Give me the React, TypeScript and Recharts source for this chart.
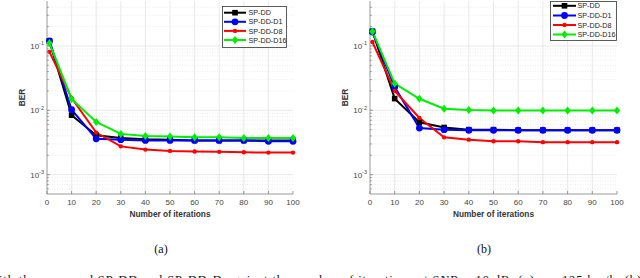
import React from 'react';
import { LineChart, Line, XAxis, YAxis, CartesianGrid, Label } from 'recharts';

const iterations = [1, 10, 20, 30, 40, 50, 60, 70, 80, 90, 100];
const xTicks = [0, 10, 20, 30, 40, 50, 60, 70, 80, 90, 100];
const yMajor = [1e-3, 1e-2, 1e-1];
const yMinor = [6e-4, 7e-4, 8e-4, 9e-4, 2e-3, 3e-3, 4e-3, 5e-3, 6e-3, 7e-3, 8e-3, 9e-3, 2e-2, 3e-2, 4e-2, 5e-2, 6e-2, 7e-2, 8e-2, 9e-2, 2e-1, 3e-1, 4e-1];
const seriesNames = ['SP-DD', 'SP-DD-D1', 'SP-DD-D8', 'SP-DD-D16'];

// (a)
const spddA = [0.119, 0.0084, 0.0041, 0.0037, 0.00355, 0.0035, 0.0034, 0.0034, 0.0034, 0.0034, 0.0034];
const d1A = [0.12, 0.0102, 0.0036, 0.0035, 0.0034, 0.0034, 0.0034, 0.0034, 0.0034, 0.0033, 0.0033];
const d8A = [0.081, 0.0155, 0.0045, 0.00275, 0.00245, 0.00234, 0.00229, 0.00226, 0.00223, 0.0022, 0.0022];
const d16A = [0.111, 0.015, 0.0066, 0.0043, 0.004, 0.0039, 0.0038, 0.0038, 0.0037, 0.0037, 0.0037];

// (b)
const spddB = [0.17, 0.0152, 0.0065, 0.0054, 0.005, 0.005, 0.0049, 0.0049, 0.0049, 0.0049, 0.0049];
const d1B = [0.165, 0.023, 0.0053, 0.005, 0.0049, 0.0049, 0.0049, 0.0049, 0.0049, 0.0049, 0.0049];
const d8B = [0.115, 0.02, 0.0076, 0.0038, 0.0035, 0.0033, 0.0033, 0.0032, 0.0032, 0.0032, 0.0032];
const d16B = [0.168, 0.026, 0.0151, 0.0106, 0.0101, 0.0099, 0.0099, 0.0099, 0.0099, 0.0099, 0.0099];

const COLORS = ['#000000', '#0000ff', '#ff0000', '#00ee00'];
const FONT = '"Liberation Sans", Arial, Helvetica, sans-serif';
const SERIF = '"Liberation Serif", "Times New Roman", serif';
const AX = '#808080';

const buildRows = (a: number[], b: number[], c: number[], d: number[]) =>
  iterations.map((it, i) => ({ it, s0: a[i], s1: b[i], s2: c[i], s3: d[i] }));

const isMajor = (v: number) => yMajor.some((m) => Math.abs(m - v) / m < 1e-6);

const Marker = ({ kind, cx, cy, color }: any) => {
  if (cx == null || cy == null) return null;
  if (kind === 0) return <rect x={cx - 2.8} y={cy - 2.8} width={5.6} height={5.6} fill={color} />;
  if (kind === 1) return <circle cx={cx} cy={cy} r={3.4} fill={color} />;
  if (kind === 2) return <circle cx={cx} cy={cy} r={2.2} fill={color} />;
  return <polygon points={`${cx},${cy - 4} ${cx + 3.2},${cy} ${cx},${cy + 4} ${cx - 3.2},${cy}`} fill={color} />;
};

const LeftTick = (props: any) => {
  const { x, y, payload } = props;
  const major = isMajor(payload.value);
  const exp = Math.round(Math.log10(payload.value));
  return (
    <g>
      <line x1={x} x2={x + (major ? 3 : 1.8)} y1={y} y2={y} stroke={AX} strokeWidth={0.8} />
      {major && (
        <text x={x - 3} y={y + 3} textAnchor="end" fontFamily={FONT} fontSize={8} fill="#444">
          10<tspan dy={-3.5} fontSize={5.5}>{String(exp)}</tspan>
        </text>
      )}
    </g>
  );
};

const RightTick = (props: any) => {
  const { x, y, payload } = props;
  const major = isMajor(payload.value);
  return <line x1={x} x2={x - (major ? 3 : 1.8)} y1={y} y2={y} stroke={AX} strokeWidth={0.8} />;
};

const BottomTick = (props: any) => {
  const { x, y, payload } = props;
  return (
    <g>
      <line x1={x} x2={x} y1={y} y2={y - 3} stroke={AX} strokeWidth={0.8} />
      <text x={x} y={y + 11} textAnchor="middle" fontFamily={FONT} fontSize={8} fill="#444">
        {payload.value}
      </text>
    </g>
  );
};

const TopTick = (props: any) => {
  const { x, y } = props;
  return <line x1={x} x2={x} y1={y} y2={y + 3} stroke={AX} strokeWidth={0.8} />;
};

const LegendBox = ({ left, top, width, height, rowY, lineX0, lineX1, textX }: any) => (
  <g transform={`translate(${left} ${top})`}>
    <rect x={0.5} y={0.5} width={width - 1} height={height - 1} fill="#ffffff" stroke="#333" strokeWidth={0.8} />
    {seriesNames.map((name, i) => {
      const y = rowY[i];
      const cx = (lineX0 + lineX1) / 2;
      return (
        <g key={name}>
          <line x1={lineX0} x2={lineX1} y1={y} y2={y} stroke={COLORS[i]} strokeWidth={2} />
          <Marker kind={i} cx={cx} cy={y} color={COLORS[i]} />
          <text x={textX} y={y + 2.6} fontFamily={FONT} fontSize={7.2} fill="#222">
            {name}
          </text>
        </g>
      );
    })}
  </g>
);

const Panel = ({ rows, yAxisWidth, marginRight, labelX }: any) => (
  <LineChart
    width={320}
    height={230}
    data={rows}
    margin={{ top: 1, right: marginRight, bottom: 0, left: 0 }}
  >
    <CartesianGrid
      horizontalValues={yMinor}
      vertical={false}
      stroke="#e4e4e4"
      strokeDasharray="1 1.5"
      strokeWidth={0.7}
    />
    <CartesianGrid
      horizontalValues={yMajor}
      verticalValues={[10, 20, 30, 40, 50, 60, 70, 80, 90]}
      stroke="#e2e2e2"
      strokeWidth={0.8}
    />
    <XAxis
      dataKey="it"
      type="number"
      domain={[0, 100]}
      ticks={xTicks}
      interval={0}
      height={36}
      tickSize={0}
      tickMargin={0}
      tickLine={false}
      tick={<BottomTick />}
      axisLine={{ stroke: AX, strokeWidth: 0.8 }}
    >
      <Label
        content={({ viewBox }: any) => (
          <text
            x={viewBox.x + viewBox.width / 2}
            y={216.5}
            textAnchor="middle"
            fontFamily={FONT}
            fontWeight="bold"
            fontSize={8.3}
            fill="#333"
          >
            Number of iterations
          </text>
        )}
      />
    </XAxis>
    <XAxis
      xAxisId="t"
      orientation="top"
      type="number"
      dataKey="it"
      domain={[0, 100]}
      ticks={xTicks}
      interval={0}
      height={0}
      tickSize={0}
      tickMargin={0}
      tickLine={false}
      tick={<TopTick />}
      axisLine={{ stroke: AX, strokeWidth: 0.8 }}
    />
    <YAxis
      scale="log"
      type="number"
      domain={[5e-4, 0.5]}
      allowDataOverflow
      ticks={[...yMajor, ...yMinor]}
      interval={0}
      width={yAxisWidth}
      tickSize={0}
      tickMargin={0}
      tickLine={false}
      tick={<LeftTick />}
      axisLine={{ stroke: AX, strokeWidth: 0.8 }}
    >
      <Label
        content={({ viewBox }: any) => (
          <text
            x={labelX}
            y={viewBox.y + viewBox.height / 2}
            transform={`rotate(-90 ${labelX} ${viewBox.y + viewBox.height / 2})`}
            textAnchor="middle"
            dominantBaseline="central"
            fontFamily={FONT}
            fontWeight="bold"
            fontSize={8.3}
            fill="#333"
          >
            BER
          </text>
        )}
      />
    </YAxis>
    <YAxis
      yAxisId="r"
      orientation="right"
      scale="log"
      type="number"
      domain={[5e-4, 0.5]}
      allowDataOverflow
      ticks={[...yMajor, ...yMinor]}
      interval={0}
      width={0}
      tickSize={0}
      tickMargin={0}
      tickLine={false}
      tick={<RightTick />}
      axisLine={{ stroke: AX, strokeWidth: 0.8 }}
    />
    {[0, 1, 2, 3].map((k) => (
      <Line
        key={k}
        dataKey={`s${k}`}
        name={seriesNames[k]}
        stroke={COLORS[k]}
        strokeWidth={2}
        isAnimationActive={false}
        activeDot={false}
        dot={(p: any) => <Marker key={`m${k}-${p.index}`} kind={k} cx={p.cx} cy={p.cy} color={COLORS[k]} />}
      />
    ))}
  </LineChart>
);

const rowsA = buildRows(spddA, d1A, d8A, d16A);
const rowsB = buildRows(spddB, d1B, d8B, d16B);

const legendA = { left: 222, top: 6, width: 65, height: 42, rowY: [6.7, 15.8, 24.9, 34], lineX0: 2, lineX1: 24, textX: 26.5 };
const legendB = { left: 550, top: 1, width: 67, height: 40, rowY: [4.8, 14.5, 24, 33.5], lineX0: 3, lineX1: 26, textX: 27.5 };

export default function App() {
  return (
    <div style={{ position: 'fixed', left: 0, top: 0, width: 640, height: 278, background: '#fff', overflow: 'hidden' }}>
      <svg width={640} height={278} style={{ position: 'absolute', left: 0, top: 0 }}>
        <text x={161} y={253} textAnchor="middle" fontFamily={SERIF} fontSize={12} fill="#111">
          (a)
        </text>
        <text x={484} y={253} textAnchor="middle" fontFamily={SERIF} fontSize={12} fill="#111">
          (b)
        </text>
        <text x={-1} y={284} fontFamily={SERIF} fontSize={12.5} fill="#111" textLength={642} lengthAdjust="spacing">
          ith the proposed SP-DD and SP-DD-D against the number of iterations at SNR = 10 dB, (a) v = 125 km/h, (b)
        </text>
      </svg>
      <div style={{ position: 'absolute', left: 0, top: 0 }}>
        <Panel rows={rowsA} yAxisWidth={47} marginRight={27} labelX={22} />
      </div>
      <div style={{ position: 'absolute', left: 320, top: 0 }}>
        <Panel rows={rowsB} yAxisWidth={50} marginRight={23} labelX={25} />
      </div>
      <svg width={640} height={278} style={{ position: 'absolute', left: 0, top: 0, pointerEvents: 'none' }}>
        <LegendBox {...legendA} />
        <LegendBox {...legendB} />
      </svg>
    </div>
  );
}
